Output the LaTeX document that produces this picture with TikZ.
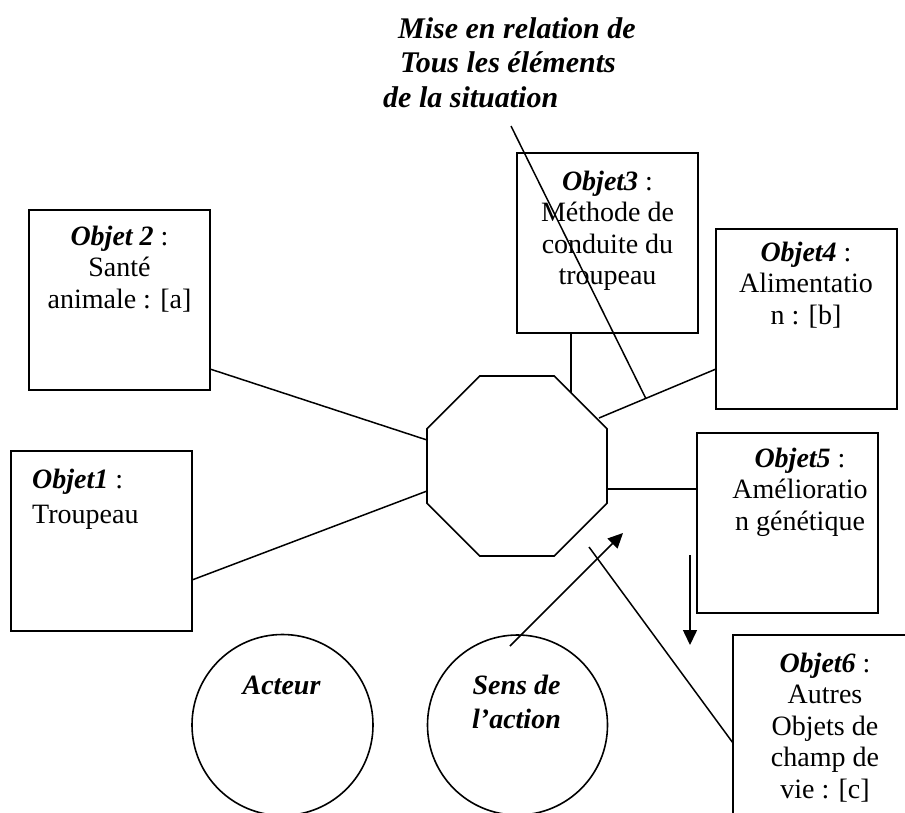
\documentclass[tikz,border=0pt]{standalone}
\usepackage{fontspec}
\setmainfont{Liberation Serif}
\usetikzlibrary{shapes.geometric,arrows.meta,calc}
\tikzset{
  boxnode/.style={draw, line width=1.6pt, minimum width=181pt, minimum height=180pt, inner sep=0pt, outer sep=0pt, anchor=north west},
  bodytxt/.style={font=\fontsize{28}{31.5}\selectfont, align=center, inner sep=0pt, anchor=north},
  bitxt/.style={font=\fontsize{28}{34}\selectfont\bfseries\itshape, align=center, inner sep=0pt, anchor=north},
  conn/.style={line width=1.5pt},
  arr/.style={line width=1.5pt, -{Triangle[length=15pt,width=14pt]}},
  ring/.style={draw, circle, line width=1.6pt, inner sep=0pt, outer sep=0pt}
}
\newcommand{\obj}[1]{\textbf{\textit{#1}}}
\begin{document}
\begin{tikzpicture}[x=1pt,y=-1pt]
\useasboundingbox (0,0) rectangle (905,812);
\fill[white] (0,0) rectangle (905,812);

% title
\node[font=\fontsize{30}{34.5}\selectfont\bfseries\itshape, align=left, inner sep=0pt, anchor=north west] (title) at (383,13.9)
  {\strut\hspace*{15pt}Mise en relation de\\\hspace*{17pt}Tous les éléments\\de la situation};

% boxes
\node[boxnode] (o2) at (29,210) {};
\node[boxnode] (o1) at (11,451) {};
\node[boxnode] (o3) at (517,153) {};
\node[boxnode] (o4) at (716,229) {};
\node[boxnode] (o5) at (697,433) {};
\begin{scope}
  \clip (0,0) rectangle (905,812);
  \node[boxnode, minimum width=200pt, minimum height=200pt] (o6) at (733,635) {};
\end{scope}

% box texts
\node[bodytxt] (t2) at (119.5,223) {\strut\obj{Objet 2} :\\Santé\\animale : [a]};
\node[bodytxt, align=left, anchor=north west] (t1) at (32,466) {\strut\obj{Objet1} :\\[3.5pt]Troupeau};
\node[bodytxt] (t3) at (607.5,168) {\strut\obj{Objet3} :\\Méthode de\\conduite du\\troupeau};
\node[bodytxt] (t4) at (806,239) {\strut\obj{Objet4} :\\Alimentatio\\n : [b]};
\node[bodytxt] (t5) at (800,445) {\strut\obj{Objet5} :\\Amélioratio\\n génétique};
\node[bodytxt] (t6) at (825,650) {\strut\obj{Objet6} :\\Autres\\Objets de\\champ de\\vie : [c]};

% octagon
\node[draw, regular polygon, regular polygon sides=8, minimum size=194.8pt, inner sep=0pt, outer sep=0pt, line width=1.6pt] (oct) at (517,466) {};

% circles
\node[ring, minimum size=181pt] (acteur) at (282.5,725) {};
\node[ring, minimum size=180pt] (sens) at (517.5,725) {};
\node[bitxt] (ta) at (281.5,670.2) {\strut Acteur};
\node[bitxt] (ts) at (516.5,670.2) {\strut Sens de\\l’action};

% connector end points
\coordinate (p3) at (571,393);
\coordinate (p4) at (599,418);
\coordinate (q4) at ([yshift=-140pt]o4.north west);
\coordinate (tl0) at (511,126);
\coordinate (tl1) at ($(p4)!0.4!(q4)$);
\coordinate (d0) at (589,547);
\coordinate (a1) at (623,533);
\coordinate (b0) at (690,555);
\coordinate (b1) at (690,645);

% connectors
\draw[conn] ([yshift=-159pt]o2.north east) -- ([yshift=26pt]oct.west);
\draw[conn] ([yshift=-129pt]o1.north east) -- ([yshift=-25pt]oct.west);
\draw[conn] ([xshift=-36.5pt]o3.south) -- (p3);
\draw[conn] (p4) -- (q4);
\draw[conn] ([yshift=-23pt]oct.east) coordinate (p5) -- (p5 -| o5.west);
\draw[conn] (tl0) -- (tl1);
\draw[conn] (d0) -- ([yshift=-108pt]o6.north west);
\draw[arr] ([xshift=-7.5pt,yshift=-11pt]sens.north) -- (a1);
\draw[arr] (b0) -- (b1);
\end{tikzpicture}
\end{document}
